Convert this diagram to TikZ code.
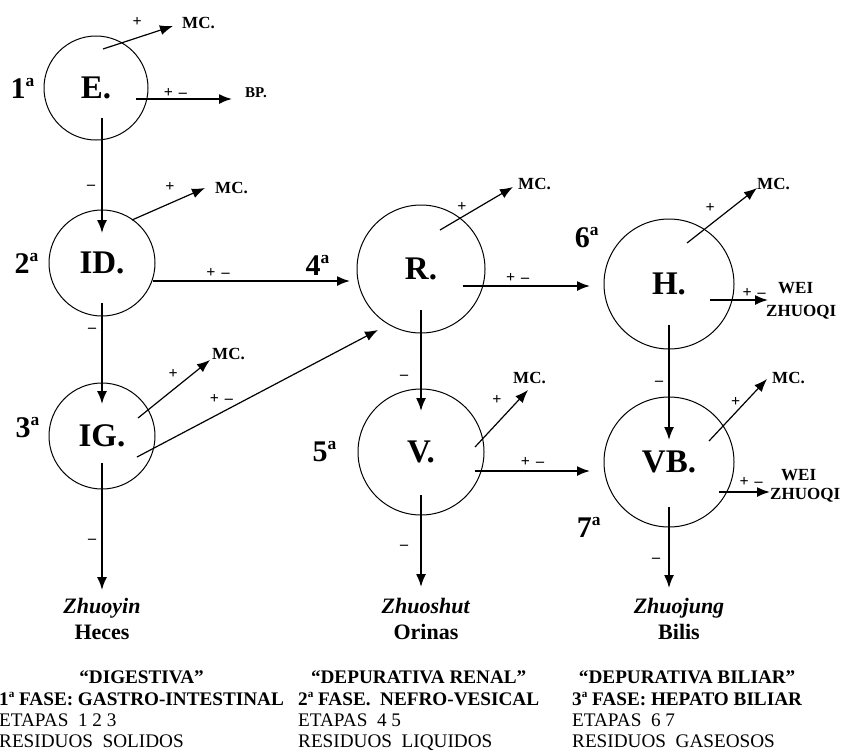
\documentclass[tikz,border=0pt]{standalone}
\usepackage{fontspec}
\setmainfont{Liberation Serif}
\usepackage{graphicx}
\usepackage{tikz}
\usetikzlibrary{arrows.meta}
\usetikzlibrary{positioning}
\newcommand{\Ord}[1]{#1\raisebox{.4em}{\scalebox{.58}{a}}}
\newcommand{\MasMenos}{+\hspace{6pt}\textendash}
\tikzset{
  Flecha/.style={line width=1.7pt,shorten >=#1,shorten <=#1,->}, % flechas principales
  Flecha/.default=0pt,
  FlechaFina/.style={line width=1.2pt,->}, % flechas finas
  Organo/.style={circle,draw,line width=1pt,inner sep=0pt,font=\fontsize{33}{33}\selectfont\bfseries},
  Etapa/.style={inner sep=0pt,font=\fontsize{30}{30}\selectfont\bfseries},
  Salida/.style={inner sep=0pt,font=\fontsize{17}{17}\selectfont\bfseries},
  Signo/.style={inner sep=1pt,font=\fontsize{16}{16}\selectfont\bfseries},
  Resto/.style={inner sep=0pt,align=center,font=\fontsize{22}{26}\selectfont\bfseries},
  Fase/.style={inner sep=0pt,align=left,font=\fontsize{19.2}{21}\selectfont},
  Titulo/.style={inner sep=0pt,font=\fontsize{19.2}{21}\selectfont\bfseries}
}
\begin{document}
\begin{tikzpicture}[x=1pt,y=-1pt,
>={Latex[length=13pt,width=10pt]} % puntas de flecha
]
\useasboundingbox (0,0) rectangle (848,753);

%Organos
\node[Organo,minimum size=104pt] (E)  at (96,88)   {E.};
\node[Organo,minimum size=106pt] (ID) at (102,263) {ID.};
\node[Organo,minimum size=106pt] (IG) at (102,436) {IG.};
\node[Organo,minimum size=128pt] (R)  at (421,269) {R.};
\node[Organo,minimum size=126pt] (V)  at (421,452) {V.};
\node[Organo,minimum size=130pt] (H)  at (669,284) {H.};
\node[Organo,minimum size=130pt] (VB) at (669,462) {VB.};

%Etapas
\node[Etapa,left=9pt of E] (e1) {\Ord{1}};
\node[Etapa,left=10pt of ID] (e2) {\Ord{2}};
\node[Etapa,left=9pt of IG,yshift=8pt] (e3) {\Ord{3}};
\node[Etapa,left=27pt of R,yshift=4pt] (e4) {\Ord{4}};
\node[Etapa,left=21pt of V] (e5) {\Ord{5}};
\node[Etapa,left=24pt of H.north west] (e6) {\Ord{6}};
\node[Etapa,left=22pt of VB.south west,yshift=-19pt] (e7) {\Ord{7}};

%Salidas
\node[Salida,anchor=west] (MCe) at (182,23) {MC.};
\node[Salida,anchor=west,font=\fontsize{15}{15}\selectfont\bfseries] (BP) at (245,93) {BP.};
\node[Salida,anchor=west] (MCid) at (215,188) {MC.};
\node[Salida,anchor=west] (MCig) at (212,354) {MC.};
\node[Salida,anchor=west] (MCr) at (518,184) {MC.};
\node[Salida,anchor=west] (MCv) at (513,378) {MC.};
\node[Salida,anchor=west] (MCh) at (757,184) {MC.};
\node[Salida,anchor=west] (MCvb) at (772,378) {MC.};
\node[Salida,anchor=west] (WEIh) at (778,288) {WEI};
\node[Salida,anchor=west] (ZQh) at (766,312) {ZHUOQI};
\node[Salida,anchor=west] (WEIvb) at (781,475) {WEI};
\node[Salida,anchor=west] (ZQvb) at (770,495) {ZHUOQI};

%Residuos
\node[Resto,anchor=north] (Zy) at (102,598) {\textit{Zhuoyin}\\Heces};
\node[Resto,anchor=north] (Zs) at (426,598) {\textit{Zhuoshut}\\Orinas};
\node[Resto,anchor=north] (Zj) at (679,598) {\textit{Zhuojung}\\Bilis};

%Fases
\node[Fase,anchor=north west] (f1) at (-1,692) {\textbf{\Ord{1} FASE: GASTRO-INTESTINAL}\\ETAPAS~ 1 2 3\\RESIDUOS~ SOLIDOS};
\node[Fase,anchor=north west] (f2) at (298,692) {\textbf{\Ord{2} FASE.~ NEFRO-VESICAL}\\ETAPAS~ 4 5\\RESIDUOS~ LIQUIDOS};
\node[Fase,anchor=north west] (f3) at (572,692) {\textbf{\Ord{3} FASE: HEPATO BILIAR}\\ETAPAS~ 6 7\\RESIDUOS~ GASEOSOS};
\node[Titulo,above=8pt of f1] (t1) {“DIGESTIVA”};
\node[Titulo,above=8pt of f2] (t2) {“DEPURATIVA RENAL”};
\node[Titulo,above=8pt of f3] (t3) {“DEPURATIVA BILIAR”};

%Flechas verticales
\draw[Flecha=30pt] (E.center -| ID.center) -- node[Signo,left=5pt,pos=.57]{\textendash} (ID.center);
\draw[Flecha=32pt,shorten <=40pt] (ID.center) -- node[Signo,left=4pt,pos=.39]{\textendash} (IG.center);
\draw[Flecha=27pt,shorten >=8pt] (IG.center) -- node[Signo,left=4pt,pos=.65]{\textendash} (IG.center |- Zy.north);
\draw[Flecha=41pt] (R.center) -- node[Signo,left=11pt,pos=.59]{\textendash} (V.center);
\draw[Flecha=43pt,shorten >=11pt] (V.center) -- node[Signo,left=11pt,pos=.65]{\textendash} (V.center |- Zs.north);
\draw[Flecha=41pt,shorten >=22pt] (H.center) -- node[Signo,left=4pt,pos=.56]{\textendash} (VB.center);
\draw[Flecha=45pt,shorten >=10pt] (VB.center) -- node[Signo,left=7pt,pos=.72]{\textendash} (VB.center |- Zj.north);

%Flechas horizontales
\draw[Flecha] ([shift={(40,11)}]E.center) -- node[Signo,above,pos=.41]{\MasMenos} ([shift={(-13,6)}]BP.west);
\draw[Flecha] ([shift={(51,18)}]ID.center) -- node[Signo,above=2pt,pos=.33]{\MasMenos} ([shift={(-71,12)}]R.center);
\draw[Flecha] ([shift={(42,17)}]R.center) -- node[Signo,above=2pt,pos=.43]{\MasMenos} ([shift={(-79,2)}]H.center);
\draw[Flecha] ([shift={(54,19)}]V.center) -- node[Signo,above=3pt,pos=.5]{\MasMenos} ([shift={(-79,9)}]VB.center);
\draw[Flecha] ([shift={(41,16)}]H.center) -- node[Signo,above=1pt,pos=.76]{\MasMenos} ([shift={(2,-12)}]ZQh.west);
\draw[Flecha] ([shift={(50,30)}]VB.center) -- node[Signo,above=4pt,pos=.63]{\MasMenos} ([shift={(0,-3)}]ZQvb.west);
\draw[FlechaFina] ([shift={(35,21)}]IG.center) -- node[Signo,above=7pt,pos=.35]{\MasMenos} ([shift={(-43,61)}]R.center);

%Flechas hacia MC.
\draw[FlechaFina] ([shift={(7,-39)}]E.center) -- node[Signo,above=10pt,pos=.49]{+} ([shift={(-9,3)}]MCe.west);
\draw[FlechaFina] ([shift={(30,-43)}]ID.center) -- node[Signo,above=10pt,pos=.52]{+} ([shift={(-10,0)}]MCid.west);
\draw[FlechaFina] ([shift={(36,-18)}]IG.center) -- node[Signo,above=9pt,pos=.49]{+} ([shift={(-2,6)}]MCig.west);
\draw[FlechaFina] ([shift={(19,-39)}]R.center) -- node[Signo,above=4pt,pos=.3]{+} ([shift={(-5,3)}]MCr.west);
\draw[FlechaFina] ([shift={(54,-5)}]V.center) -- node[Signo,above=17pt,pos=.415]{+} ([shift={(15,12)}]MCv.west);
\draw[FlechaFina] ([shift={(18,-41)}]H.center) -- node[Signo,above=11pt,pos=.33]{+} ([shift={(0,4)}]MCh.west);
\draw[FlechaFina] ([shift={(40,-21)}]VB.center) -- node[Signo,above=4pt,pos=.46]{+} ([shift={(-5,1)}]MCvb.west);

\end{tikzpicture}
\end{document}
